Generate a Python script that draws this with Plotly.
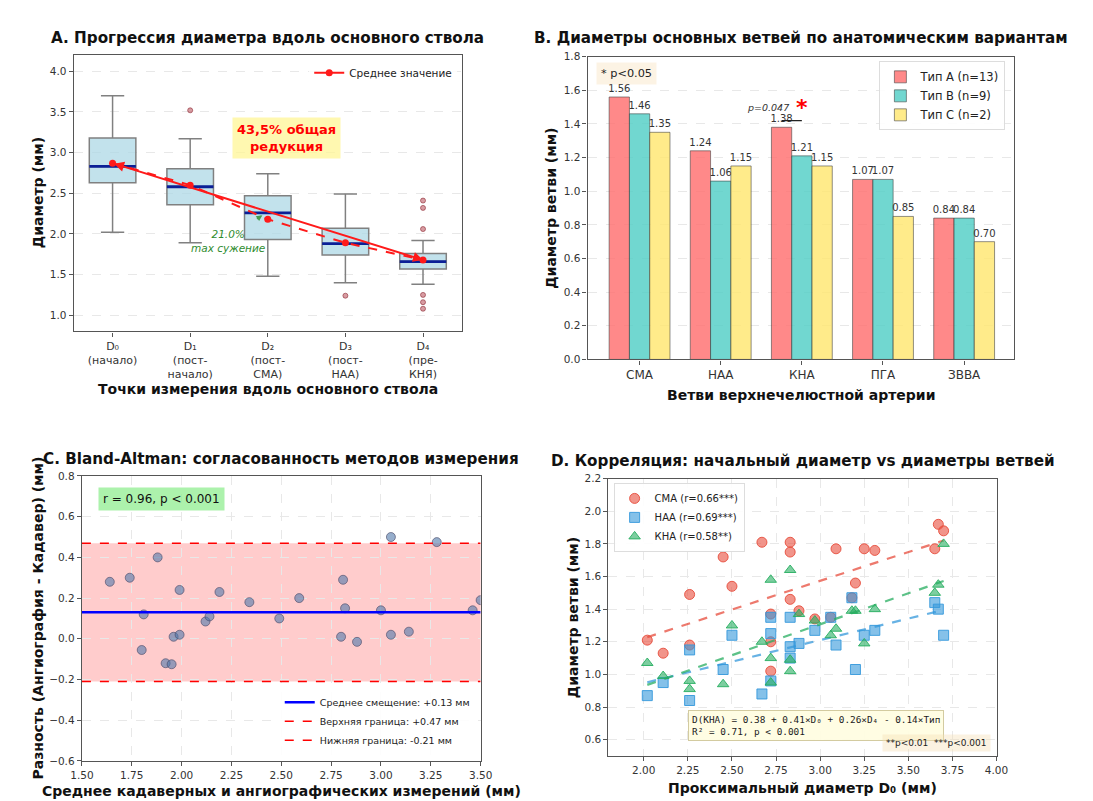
import numpy as np
import plotly.graph_objects as go

FONT = "DejaVu Sans"

# ---- A. diameter progression along the main trunk ----
points_labels = ["D₀<br>(начало)", "D₁<br>(пост-<br>начало)", "D₂<br>(пост-<br>СМА)",
                 "D₃<br>(пост-<br>НАА)", "D₄<br>(пре-<br>КНЯ)"]
box_lower = [2.02, 1.89, 1.48, 1.40, 1.38]
box_q1 = [2.63, 2.36, 1.93, 1.74, 1.57]
box_median = [2.83, 2.58, 2.26, 1.88, 1.66]
box_q3 = [3.18, 2.80, 2.47, 2.07, 1.76]
box_upper = [3.70, 3.17, 2.74, 2.49, 1.92]
box_mean = [2.87, 2.60, 2.18, 1.89, 1.68]
outlier_idx = [1, 3, 4, 4, 4, 4, 4, 4]
outlier_val = [3.52, 1.24, 2.41, 2.32, 2.06, 1.25, 1.16, 1.08]

# ---- B. branch diameters by anatomical type ----
branches = ["СМА", "НАА", "КНА", "ПГА", "ЗВВА"]
type_a = [1.56, 1.24, 1.38, 1.07, 0.84]
type_b = [1.46, 1.06, 1.21, 1.07, 0.84]
type_c = [1.35, 1.15, 1.15, 0.85, 0.70]

# ---- C. Bland-Altman ----
ba_mean = [1.64, 1.74, 1.80, 1.81, 1.88, 1.92, 1.95, 1.96, 1.99, 1.99, 2.12, 2.14, 2.19, 2.34,
           2.49, 2.59, 2.80, 2.81, 2.82, 2.88, 3.00, 3.05, 3.05, 3.14, 3.28, 3.46, 3.50]
ba_diff = [0.28, 0.30, -0.055, 0.12, 0.40, -0.12, -0.125, 0.01, 0.02, 0.24, 0.085, 0.11, 0.23, 0.18,
           0.10, 0.20, 0.01, 0.29, 0.15, -0.015, 0.14, 0.50, 0.02, 0.035, 0.475, 0.14, 0.19]
ba_bias = 0.13
ba_upper = 0.47
ba_lower = -0.21

# ---- D. proximal diameter vs branch diameters ----
d0 = [2.02, 2.11, 2.26, 2.26, 2.45, 2.50, 2.67, 2.72, 2.72, 2.72, 2.83, 2.83, 2.83, 2.88,
      2.97, 3.06, 3.09, 3.18, 3.20, 3.25, 3.31, 3.65, 3.67, 3.70]
d_sma = [1.21, 1.13, 1.49, 1.18, 1.72, 1.54, 1.81, 1.37, 1.20, 1.02, 1.81, 1.75, 1.46, 1.39,
         1.34, 1.35, 1.77, 1.47, 1.56, 1.77, 1.76, 1.77, 1.92, 1.88]
d_naa = [0.87, 0.95, 1.15, 0.84, 1.03, 1.24, 0.88, 1.35, 1.25, 0.96, 1.35, 1.17, 1.10, 1.19,
         1.27, 1.35, 1.18, 1.47, 1.03, 1.24, 1.27, 1.44, 1.40, 1.24]
d_kna = [1.07, 0.99, 0.96, 0.91, 0.94, 1.30, 1.20, 1.58, 1.10, 0.95, 1.64, 1.09, 1.02, 1.37,
         1.33, 1.24, 1.28, 1.39, 1.39, 1.19, 1.40, 1.50, 1.55, 1.80]

fig = go.Figure()

# ---------- panel A ----------
BOX_W = 0.6
for i in range(len(points_labels)):
    fig.add_trace(go.Box(x=[i], q1=[box_q1[i]], median=[box_median[i]], q3=[box_q3[i]],
                         lowerfence=[box_lower[i]], upperfence=[box_upper[i]],
                         width=BOX_W, whiskerwidth=0.5, boxpoints=False,
                         fillcolor="rgba(173,216,230,0.75)", line=dict(color="#808080", width=1.5),
                         showlegend=False, hoverinfo="skip", xaxis="x", yaxis="y"))
    fig.add_trace(go.Scatter(x=[i - BOX_W / 2, i + BOX_W / 2], y=[box_median[i]] * 2, mode="lines",
                             line=dict(color="#0b1f96", width=2.8), showlegend=False,
                             hoverinfo="skip", xaxis="x", yaxis="y"))

fig.add_trace(go.Scatter(x=outlier_idx, y=outlier_val, mode="markers",
                         marker=dict(size=5, color="rgba(190,90,100,0.6)",
                                     line=dict(color="rgba(140,40,50,0.6)", width=1)),
                         showlegend=False, xaxis="x", yaxis="y"))
fig.add_trace(go.Scatter(x=list(range(len(box_mean))), y=box_mean, mode="lines+markers",
                         line=dict(color="#ff1a1a", width=2, dash="dash"),
                         marker=dict(size=7, color="#ff1a1a"), showlegend=False,
                         xaxis="x", yaxis="y"))
fig.add_trace(go.Scatter(x=[None], y=[None], mode="lines+markers", name="Среднее значение",
                         line=dict(color="#ff1a1a", width=2), marker=dict(size=7, color="#ff1a1a"),
                         legend="legend", xaxis="x", yaxis="y"))

# ---------- panel B ----------
bar_x = np.arange(len(branches))
for vals, name, col in [(type_a, "Тип A (n=13)", "rgba(255,107,107,0.8)"),
                        (type_b, "Тип B (n=9)", "rgba(78,205,196,0.8)"),
                        (type_c, "Тип C (n=2)", "rgba(255,230,109,0.8)")]:
    fig.add_trace(go.Bar(x=bar_x, y=vals, name=name, marker=dict(color=col,
                         line=dict(color="rgba(60,60,60,0.7)", width=0.8)),
                         texttemplate="%{y:.2f}", textposition="outside", cliponaxis=False,
                         constraintext="none", textfont=dict(size=10, color="#333"),
                         legend="legend2", xaxis="x2", yaxis="y2"))

kna_i = branches.index("КНА")
sig_y = max(type_a[kna_i], type_b[kna_i]) + 0.04
fig.add_trace(go.Scatter(x=[kna_i - 0.25, kna_i], y=[sig_y, sig_y], mode="lines",
                         line=dict(color="#222", width=1.2), showlegend=False,
                         xaxis="x2", yaxis="y2"))

# ---------- panel C ----------
c_range = [1.5, 3.5]
fig.add_trace(go.Scatter(x=ba_mean, y=ba_diff, mode="markers",
                         marker=dict(size=9, color="rgba(80,120,170,0.6)",
                                     line=dict(color="rgba(70,70,100,0.6)", width=1)),
                         showlegend=False, xaxis="x3", yaxis="y3"))
fig.add_trace(go.Scatter(x=c_range, y=[ba_bias] * 2, mode="lines",
                         name=f"Среднее смещение: +{ba_bias:.2f} мм",
                         line=dict(color="#0000ff", width=2.5), legend="legend3",
                         xaxis="x3", yaxis="y3"))
fig.add_trace(go.Scatter(x=c_range, y=[ba_upper] * 2, mode="lines",
                         name=f"Верхняя граница: +{ba_upper:.2f} мм",
                         line=dict(color="#ff0000", width=1.5, dash="dash"), legend="legend3",
                         xaxis="x3", yaxis="y3"))
fig.add_trace(go.Scatter(x=c_range, y=[ba_lower] * 2, mode="lines",
                         name=f"Нижняя граница: {ba_lower:.2f} мм",
                         line=dict(color="#ff0000", width=1.5, dash="dash"), legend="legend3",
                         xaxis="x3", yaxis="y3"))

# ---------- panel D ----------
d0_arr = np.array(d0)
x_fit = np.array([d0_arr.min(), d0_arr.max()])
for vals, name, sym, col in [(d_sma, "СМА (r=0.66***)", "circle", (231, 76, 60)),
                             (d_naa, "НАА (r=0.69***)", "square", (52, 152, 219)),
                             (d_kna, "КНА (r=0.58**)", "triangle-up", (39, 174, 96))]:
    rgb = "%d,%d,%d" % col
    fig.add_trace(go.Scatter(x=d0, y=vals, mode="markers", name=name,
                             marker=dict(symbol=sym, size=10, color=f"rgba({rgb},0.6)",
                                         line=dict(color=f"rgba({rgb},0.9)", width=1)),
                             legend="legend4", xaxis="x4", yaxis="y4"))
    k, b = np.polyfit(d0_arr, np.array(vals), 1)
    fig.add_trace(go.Scatter(x=x_fit, y=k * x_fit + b, mode="lines", showlegend=False,
                             line=dict(color=f"rgba({rgb},0.75)", width=2.2, dash="dash"),
                             xaxis="x4", yaxis="y4"))

# ---------- layout ----------
def ax(domain, anchor, rng, grid, **kw):
    d = dict(domain=domain, anchor=anchor, range=rng, showline=True, linecolor="#555",
             linewidth=1.3, mirror=True, ticks="outside", ticklen=4, tickcolor="#555",
             tickfont=dict(size=10.5, color="#333"), zeroline=False, showgrid=grid,
             gridcolor="#e8e8e8", griddash="dash", gridwidth=1)
    d.update(kw)
    return d

fig.update_layout(
    width=1093, height=801, margin=dict(l=0, r=0, t=0, b=0),
    paper_bgcolor="white", plot_bgcolor="white",
    font=dict(family=FONT, color="#222"),
    boxmode="overlay", barmode="group", bargap=0.25, bargroupgap=0,
    xaxis=ax([0.0503, 0.4133], "y", [-0.5, 4.5], False, tickvals=list(range(5)),
             ticktext=points_labels, tickfont=dict(size=11, color="#333")),
    yaxis=ax([0.5976, 0.948], "x", [0.8, 4.2], True, dtick=0.5, tick0=0, tickformat=".1f"),
    xaxis2=ax([0.531, 0.9295], "y2", [-0.64, 4.61], False, tickvals=list(bar_x),
              ticktext=branches, tickfont=dict(size=12, color="#333")),
    yaxis2=ax([0.5622, 0.946], "x2", [0, 1.8], True, dtick=0.2, tickformat=".1f"),
    xaxis3=ax([0.0579, 0.4309], "y3", c_range, True, dtick=0.25, tick0=1.5, tickformat=".2f"),
    yaxis3=ax([0.0533, 0.4145], "x3", [-0.6, 0.8], True, dtick=0.2, tick0=0, tickformat=".1f"),
    xaxis4=ax([0.5505, 0.9135], "y4", [1.8, 4.0], True, dtick=0.25, tick0=2.0, tickformat=".2f"),
    yaxis4=ax([0.0596, 0.4111], "x4", [0.5, 2.2], True, dtick=0.2, tick0=0, tickformat=".1f"),
    legend=dict(x=0.409, y=0.944, xanchor="right", yanchor="top", bgcolor="rgba(255,255,255,0.85)",
                font=dict(size=10.5)),
    legend2=dict(x=0.9218, y=0.94, xanchor="right", yanchor="top", bgcolor="rgba(255,255,255,0.9)",
                 bordercolor="#dddddd", borderwidth=1, font=dict(size=11.5)),
    legend3=dict(x=0.4254, y=0.0612, xanchor="right", yanchor="bottom",
                 bgcolor="rgba(255,255,255,0.9)", font=dict(size=9.5)),
    legend4=dict(x=0.5553, y=0.4057, xanchor="left", yanchor="top",
                 bgcolor="rgba(255,255,255,0.9)", bordercolor="#dddddd", borderwidth=1,
                 font=dict(size=10)),
)

# Bland-Altman agreement band
fig.add_shape(type="rect", xref="x3 domain", yref="y3", x0=0, x1=1, y0=ba_lower, y1=ba_upper,
              fillcolor="rgba(255,0,0,0.2)", line=dict(width=0), layer="below")

anns = []
# panel titles
for x, y, t in [(0.2318, 0.970, "A. Прогрессия диаметра вдоль основного ствола"),
                (0.7303, 0.970, "B. Диаметры основных ветвей по анатомическим вариантам"),
                (0.2444, 0.4363, "C. Bland-Altman: согласованность методов измерения"),
                (0.7320, 0.4333, "D. Корреляция: начальный диаметр vs диаметры ветвей")]:
    anns.append(dict(x=x, y=y, xref="paper", yref="paper", xanchor="center", yanchor="middle",
                     text=f"<b>{t}</b>", showarrow=False, font=dict(size=15.2, color="#111")))
# axis titles
for x, y, t, ang in [(0.2318, 0.525, "Точки измерения вдоль основного ствола", 0),
                     (0.017, 0.773, "Диаметр (мм)", -90),
                     (0.7303, 0.517, "Ветви верхнечелюстной артерии", 0),
                     (0.4965, 0.754, "Диаметр ветви (мм)", -90),
                     (0.2444, 0.015, "Среднее кадаверных и ангиографических измерений (мм)", 0),
                     (0.017, 0.234, "Разность (Ангиография - Кадавер) (мм)", -90),
                     (0.7320, 0.019, "Проксимальный диаметр D₀ (мм)", 0),
                     (0.517, 0.235, "Диаметр ветви (мм)", -90)]:
    anns.append(dict(x=x, y=y, xref="paper", yref="paper", xanchor="center", yanchor="middle",
                     text=f"<b>{t}</b>", showarrow=False, textangle=ang,
                     font=dict(size=14, color="#111")))

# panel A notes
anns.append(dict(x=4, y=box_mean[-1], ax=0, ay=box_mean[0], xref="x", yref="y", axref="x",
                 ayref="y", text="", showarrow=True, arrowside="end+start", arrowhead=2,
                 arrowsize=1, arrowwidth=2, arrowcolor="#ff1a1a"))
anns.append(dict(x=2.24, y=3.18, xref="x", yref="y", text="<b>43,5% общая<br>редукция</b>",
                 showarrow=False, font=dict(size=13, color="#ff0000"),
                 bgcolor="rgba(255,245,150,0.75)", borderpad=4))
anns.append(dict(x=1.93, y=2.23, ax=1.84, ay=2.17, xref="x", yref="y", axref="x", ayref="y",
                 text="", showarrow=True, arrowhead=2, arrowsize=1, arrowwidth=1.2,
                 arrowcolor="rgba(40,140,40,0.8)", standoff=0))
anns.append(dict(x=1.49, y=1.91, xref="x", yref="y", text="<i>21.0%<br>max сужение</i>",
                 showarrow=False, font=dict(size=10.5, color="#2e8b2e")))
# panel B notes
anns.append(dict(x=kna_i - 0.415, y=1.50, xref="x2", yref="y2", text="<i>p=0.047</i>",
                 showarrow=False, font=dict(size=9.5, color="#333")))
anns.append(dict(x=kna_i, y=1.50, xref="x2", yref="y2", text="<b>*</b>",
                 showarrow=False, font=dict(size=22, color="#ff0000")))
anns.append(dict(x=0.539, y=0.9395, xref="paper", yref="paper", xanchor="left", yanchor="top",
                 text="* p<0.05", showarrow=False, font=dict(size=11.3, color="#222"),
                 bgcolor="rgba(245,222,179,0.35)", borderpad=4))
# panel C note
anns.append(dict(x=0.0732, y=0.4005, xref="paper", yref="paper", xanchor="left", yanchor="top",
                 text="r = 0.96, p < 0.001", showarrow=False, font=dict(size=12, color="#111"),
                 bgcolor="rgba(144,238,144,0.75)", borderpad=4))
# panel D notes
anns.append(dict(x=0.6245, y=0.1178, xref="paper", yref="paper", xanchor="left", yanchor="top",
                 align="left",
                 text="D(КНА) = 0.38 + 0.41×D₀ + 0.26×D₄ - 0.14×Тип<br>R² = 0.71, p < 0.001",
                 showarrow=False, font=dict(size=9.4, family="DejaVu Sans Mono", color="#222"),
                 bgcolor="rgba(255,253,225,0.95)", bordercolor="rgba(200,190,140,0.8)",
                 borderwidth=1, borderpad=3))
anns.append(dict(x=0.9085, y=0.0645, xref="paper", yref="paper", xanchor="right", yanchor="bottom",
                 text="**p<0.01  ***p<0.001", showarrow=False, font=dict(size=9, color="#222"),
                 bgcolor="rgba(245,222,179,0.4)", borderpad=3))

fig.update_layout(annotations=anns)
fig.write_html("out.html")
